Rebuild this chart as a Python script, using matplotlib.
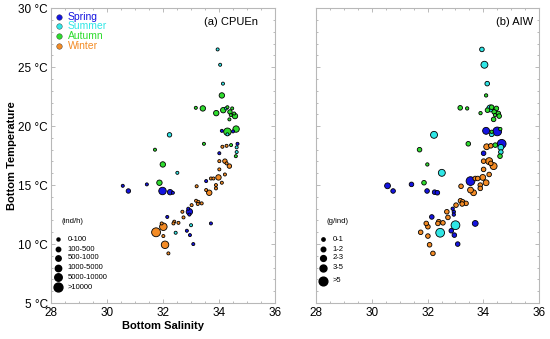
import numpy as np
import matplotlib.pyplot as plt
from matplotlib.ticker import MultipleLocator

plt.rcParams['font.family'] = ['Liberation Sans', 'DejaVu Sans']

# station data: bottom salinity, bottom temperature, season, CPUEn class, AIW class
salinity = [33.95, 34.04, 34.14, 34.10, 33.17, 33.42, 33.90, 34.15, 34.25, 34.30,
            34.47, 34.39, 34.54, 34.57, 34.42, 34.37, 34.30, 34.61, 34.10, 34.50,
            34.30, 32.23, 31.71, 31.99, 32.51, 31.87, 31.42, 30.56, 30.76, 31.98,
            32.25, 32.35, 33.46, 34.12, 34.27, 34.43, 34.66, 34.63, 34.01, 34.63,
            34.60, 34.01, 34.21, 34.27, 34.37, 34.01, 34.21, 33.54, 33.71, 33.80,
            33.98, 34.10, 33.89, 33.89, 33.65, 33.54, 33.20, 33.18, 33.26, 33.38,
            33.24, 33.02, 32.94, 32.90, 32.94, 32.69, 32.73, 32.15, 33.71, 32.40,
            32.37, 32.55, 33.00, 32.45, 32.85, 32.96, 32.01, 31.95, 31.75, 32.01,
            32.07, 32.19, 33.08]
temperature = [26.5, 25.2, 23.6, 22.6, 21.55, 21.5, 21.1, 21.35, 21.5, 21.6,
               21.5, 21.2, 21.07, 20.85, 20.93, 20.57, 19.52, 19.75, 19.6, 19.55,
               19.3, 19.26, 18.0, 16.75, 16.04, 15.2, 15.06, 14.94, 14.5, 14.5,
               14.4, 14.35, 18.5, 18.25, 18.33, 18.39, 18.5, 18.2, 17.7, 17.8,
               17.45, 17.03, 17.03, 16.84, 16.61, 16.33, 15.9, 15.34, 15.56, 15.56,
               15.65, 15.2, 15.0, 14.72, 14.35, 14.58, 14.9, 13.67, 13.58, 13.45,
               13.4, 13.3, 12.74, 13.0, 12.5, 12.74, 12.26, 12.3, 11.75, 11.9,
               11.75, 11.8, 11.6, 10.96, 11.13, 10.76, 11.47, 11.75, 11.0, 10.68,
               9.94, 9.21, 10.0]
season = ['Su', 'Su', 'Su', 'Au', 'Au', 'Au', 'Au', 'Au', 'Su', 'Au',
          'Au', 'Au', 'Au', 'Au', 'Au', 'Au', 'Au', 'Au', 'Sp', 'Sp',
          'Su', 'Su', 'Au', 'Au', 'Su', 'Au', 'Sp', 'Sp', 'Sp', 'Sp',
          'Sp', 'Sp', 'Au', 'Wi', 'Wi', 'Au', 'Sp', 'Su', 'Sp', 'Su',
          'Au', 'Wi', 'Wi', 'Wi', 'Wi', 'Wi', 'Wi', 'Sp', 'Wi', 'Wi',
          'Wi', 'Wi', 'Wi', 'Wi', 'Wi', 'Wi', 'Wi', 'Wi', 'Wi', 'Wi',
          'Wi', 'Wi', 'Sp', 'Sp', 'Sp', 'Wi', 'Wi', 'Sp', 'Sp', 'Wi',
          'Wi', 'Wi', 'Su', 'Su', 'Sp', 'Sp', 'Wi', 'Wi', 'Wi', 'Wi',
          'Wi', 'Wi', 'Sp']
cpue_class = [0, 0, 0, 2, 0, 2, 2, 2, 0, 0,
              0, 1, 0, 2, 0, 0, 4, 3, 0, 0,
              0, 1, 0, 2, 0, 2, 0, 0, 1, 4,
              2, 0, 0, 0, 0, 0, 0, 0, 0, 0,
              0, 0, 1, 0, 1, 0, 0, 0, 0, 0,
              2, 0, 0, 0, 2, 0, 0, 0, 0, 0,
              0, 0, 3, 0, 0, 0, 0, 0, 0, 0,
              0, 0, 0, 0, 0, 0, 4, 0, 5, 0,
              4, 0, 0]
aiw_class = [1, 3, 1, 0, 1, 0, 0, 1, 3, 1,
             1, 1, 1, 1, 0, 1, 0, 0, 3, 4,
             1, 3, 1, 0, 3, 1, 1, 2, 1, 1,
             1, 1, 1, 2, 1, 1, 4, 2, 1, 1,
             1, 1, 3, 1, 3, 1, 1, 4, 1, 1,
             2, 2, 1, 1, 2, 2, 1, 1, 1, 1,
             1, 1, 0, 0, 0, 1, 1, 1, 2, 1,
             1, 1, 4, 4, 1, 1, 1, 1, 1, 1,
             1, 1, 1]

seasons = ['Sp', 'Su', 'Au', 'Wi']
season_names = ['Spring', 'Summer', 'Autumn', 'Winter']
season_colors = {'Sp': '#1414e0', 'Su': '#30e6e6', 'Au': '#2edc2e', 'Wi': '#f38b25'}

cpue_labels = ['0-100', '100-500', '500-1000', '1000-5000', '5000-10000', '>10000']
cpue_ms = [2.2, 3.2, 3.9, 4.6, 5.4, 6.4]
aiw_labels = ['0-1', '1-2', '2-3', '3-5', '>5']
aiw_ms = [2.4, 3.3, 4.2, 5.0, 6.3]

S = np.array(salinity)
T = np.array(temperature)
cols = np.array([season_colors[s] for s in season])

fig = plt.figure(figsize=(5.5, 3.39), dpi=100)
ax1 = fig.add_axes([0.093, 0.106, 0.407, 0.87])
ax2 = fig.add_axes([0.575, 0.106, 0.405, 0.87])


def draw(ax, cls, ms):
    cls = np.array(cls)
    d = np.array(ms)[cls]
    order = np.argsort(-d, kind='stable')
    ax.scatter(S[order], T[order], s=d[order] ** 2, c=cols[order],
               edgecolors='black', linewidths=0.6, zorder=3)


def style(ax):
    ax.set_xlim(28, 36)
    ax.set_ylim(5, 30)
    ax.xaxis.set_major_locator(MultipleLocator(2))
    ax.xaxis.set_minor_locator(MultipleLocator(0.5))
    ax.yaxis.set_major_locator(MultipleLocator(5))
    ax.yaxis.set_minor_locator(MultipleLocator(1))
    ax.tick_params(which='both', direction='in', top=True, right=True,
                   color='#b0b0b0', labelsize=8.5, width=0.6, pad=2.5)
    ax.tick_params(which='major', length=3)
    ax.tick_params(which='minor', length=1.5)
    for sp in ax.spines.values():
        sp.set_color('#b8b8b8')
        sp.set_linewidth(0.8)


def size_legend(ax, title, labels, ms, ys):
    ax.text(0.048, 0.275, title, transform=ax.transAxes, fontsize=5.5,
            va='center', ha='left')
    for lab, m, y in zip(labels, ms, ys):
        ax.plot([0.031], [y], 'o', color='black', ms=m, transform=ax.transAxes,
                clip_on=False)
        ax.text(0.072, y, lab, transform=ax.transAxes, fontsize=5.5,
                va='center', ha='left')


draw(ax1, cpue_class, cpue_ms)
draw(ax2, aiw_class, aiw_ms)
style(ax1)
style(ax2)

ax1.set_yticklabels([f'{int(v)} °C' for v in ax1.get_yticks()])
ax2.tick_params(labelleft=False)

ax1.set_ylabel('Bottom Temperature', fontsize=8, fontweight='bold', labelpad=1)
ax1.set_xlabel('Bottom Salinity', fontsize=8, fontweight='bold', labelpad=2)

ax1.text(0.925, 0.953, '(a) CPUEn', transform=ax1.transAxes, fontsize=8,
         ha='right', va='center')
ax2.text(0.972, 0.953, '(b) AIW', transform=ax2.transAxes, fontsize=8,
         ha='right', va='center')

# season legend
for i, (sk, nm) in enumerate(zip(seasons, season_names)):
    y = 0.971 - i * 0.033
    ax1.plot([0.036], [y], 'o', color=season_colors[sk], ms=4.0,
             markeredgecolor='#333333', markeredgewidth=0.3,
             transform=ax1.transAxes)
    ax1.text(0.075, y, nm, color=season_colors[sk], fontsize=7.5,
             transform=ax1.transAxes, va='center', ha='left')

size_legend(ax1, '(ind/h)', cpue_labels, cpue_ms,
            [0.217, 0.183, 0.153, 0.119, 0.088, 0.054])
size_legend(ax2, '(g/ind)', aiw_labels, aiw_ms,
            [0.217, 0.183, 0.153, 0.119, 0.075])

fig.savefig('out.png', dpi=100)
